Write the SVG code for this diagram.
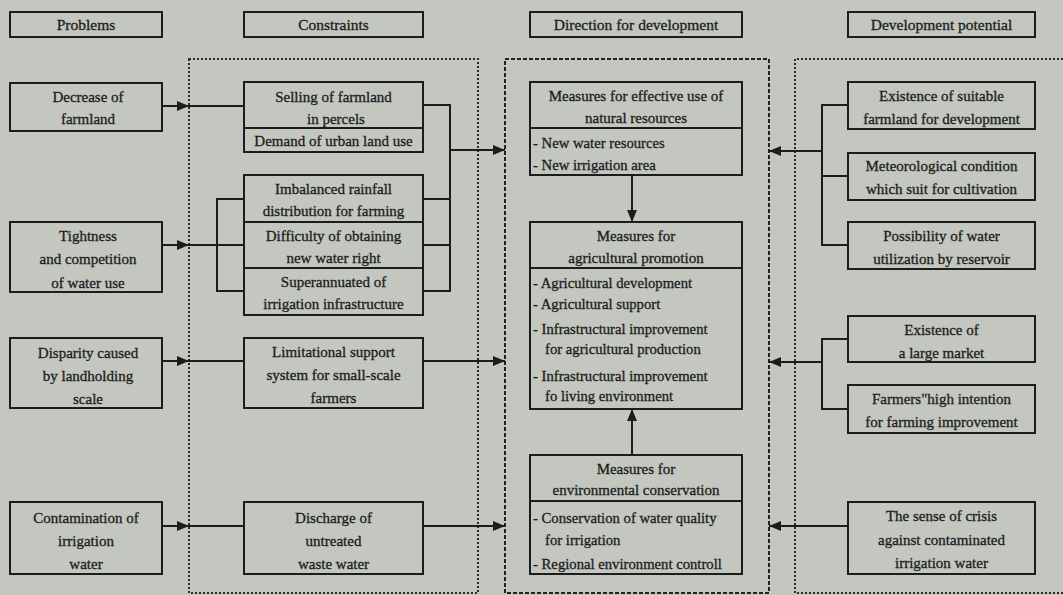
<svg xmlns="http://www.w3.org/2000/svg" width="1063" height="595" viewBox="0 0 1063 595">
<defs>
<style>
.bg{fill:#c3c7bf}
.box{fill:none;stroke:#1c1c1c;stroke-width:2}
.t,.l,.h{font-family:"Liberation Serif","Times New Roman",serif;font-size:15px;fill:#1c1c1c;stroke:#1c1c1c;stroke-width:0.3}
.t,.h{text-anchor:middle}
.l{text-anchor:start;font-size:14.7px}
.h{font-size:15.5px}
.c{fill:none;stroke:#1c1c1c;stroke-width:2}
.dot{fill:none;stroke:#2a2a2a;stroke-width:2;stroke-dasharray:2 2}
.dash{fill:none;stroke:#222;stroke-width:2;stroke-dasharray:4 2}
</style>
<marker id="ah" viewBox="0 0 12 10" refX="12" refY="5" markerWidth="12" markerHeight="10" markerUnits="userSpaceOnUse" orient="auto">
<path d="M0,0 L12,5 L0,10 z" fill="#1c1c1c"/>
</marker>
</defs>
<rect class="bg" x="0" y="0" width="1063" height="595"/>

<g id="panels">
<rect class="dot" x="189" y="59" width="289" height="534"/>
<rect class="dash" x="505" y="59" width="264" height="534"/>
<path class="dot" d="M1063,59 H795 V593 H1063"/>
</g>

<g id="headers">
<g id="h-problems"><rect class="box" x="10" y="12" width="152" height="25"/><text class="h" x="86" y="30">Problems</text></g>
<g id="h-constraints"><rect class="box" x="244" y="12" width="179" height="25"/><text class="h" x="333.5" y="30">Constraints</text></g>
<g id="h-direction"><rect class="box" x="530" y="12" width="212" height="25"/><text class="h" x="636" y="30">Direction for development</text></g>
<g id="h-potential"><rect class="box" x="848" y="12" width="187" height="25"/><text class="h" x="941.5" y="30">Development potential</text></g>
</g>

<g id="connectors">
<line class="c" x1="162" y1="106" x2="189" y2="106" marker-end="url(#ah)"/>
<line class="c" x1="189" y1="106" x2="244" y2="106"/>
<line class="c" x1="162" y1="245" x2="189" y2="245" marker-end="url(#ah)"/>
<line class="c" x1="189" y1="245" x2="244" y2="245"/>
<path class="c" d="M244,199 H217 V291 H244"/>
<line class="c" x1="162" y1="361" x2="189" y2="361" marker-end="url(#ah)"/>
<line class="c" x1="189" y1="361" x2="244" y2="361"/>
<line class="c" x1="162" y1="526" x2="189" y2="526" marker-end="url(#ah)"/>
<line class="c" x1="189" y1="526" x2="244" y2="526"/>
<path class="c" d="M423,105 H450 V291 H423"/>
<line class="c" x1="423" y1="199" x2="450" y2="199"/>
<line class="c" x1="423" y1="245" x2="450" y2="245"/>
<line class="c" x1="450" y1="150" x2="505" y2="150" marker-end="url(#ah)"/>
<line class="c" x1="423" y1="361" x2="505" y2="361" marker-end="url(#ah)"/>
<line class="c" x1="423" y1="526" x2="505" y2="526" marker-end="url(#ah)"/>
<line class="c" x1="632" y1="175" x2="632" y2="222" marker-end="url(#ah)"/>
<line class="c" x1="632" y1="455" x2="632" y2="409" marker-end="url(#ah)"/>
<path class="c" d="M848,105 H822 V245 H848"/>
<line class="c" x1="822" y1="176" x2="848" y2="176"/>
<line class="c" x1="822" y1="151" x2="769" y2="151" marker-end="url(#ah)"/>
<path class="c" d="M848,339 H822 V409 H848"/>
<line class="c" x1="822" y1="362" x2="769" y2="362" marker-end="url(#ah)"/>
<line class="c" x1="848" y1="526" x2="769" y2="526" marker-end="url(#ah)"/>
</g>

<g id="p-decrease"><rect class="box" x="10" y="83" width="152" height="48"/>
<text class="t" x="88" y="102">Decrease of</text><text class="t" x="88" y="124">farmland</text></g>
<g id="p-tightness"><rect class="box" x="10" y="222" width="152" height="70"/>
<text class="t" x="88" y="241">Tightness</text><text class="t" x="88" y="264">and competition</text><text class="t" x="88" y="288">of water use</text></g>
<g id="p-disparity"><rect class="box" x="10" y="338" width="152" height="70"/>
<text class="t" x="88" y="358">Disparity caused</text><text class="t" x="88" y="381">by landholding</text><text class="t" x="88" y="404">scale</text></g>
<g id="p-contamination"><rect class="box" x="10" y="502" width="152" height="72"/>
<text class="t" x="86" y="523">Contamination of</text><text class="t" x="86" y="546">irrigation</text><text class="t" x="86" y="569">water</text></g>

<g id="c-selling"><rect class="box" x="244" y="82" width="179" height="70"/><line class="box" x1="244" y1="128" x2="423" y2="128"/>
<text class="t" x="333.5" y="102">Selling of farmland</text><text class="t" x="336" y="124">in percels</text><text class="t" x="333.5" y="146">Demand of urban land use</text></g>
<g id="c-water"><rect class="box" x="244" y="175" width="179" height="140"/><line class="box" x1="244" y1="222" x2="423" y2="222"/><line class="box" x1="244" y1="268" x2="423" y2="268"/>
<text class="t" x="333.5" y="194">Imbalanced rainfall</text><text class="t" x="333.5" y="216">distribution for farming</text>
<text class="t" x="333.5" y="241">Difficulty of obtaining</text><text class="t" x="333.5" y="263">new water right</text>
<text class="t" x="333.5" y="287">Superannuated of</text><text class="t" x="333.5" y="309">irrigation infrastructure</text></g>
<g id="c-limitational"><rect class="box" x="244" y="338" width="179" height="70"/>
<text class="t" x="333.5" y="357">Limitational support</text><text class="t" x="333.5" y="380">system for small-scale</text><text class="t" x="333.5" y="403">farmers</text></g>
<g id="c-discharge"><rect class="box" x="244" y="502" width="179" height="72"/>
<text class="t" x="333.5" y="523">Discharge of</text><text class="t" x="333.5" y="546">untreated</text><text class="t" x="333.5" y="569">waste water</text></g>

<g id="d-natural"><rect class="box" x="530" y="82" width="212" height="93"/><line class="box" x1="530" y1="128" x2="742" y2="128"/>
<text class="t" x="636" y="101">Measures for effective use of</text><text class="t" x="636" y="123">natural resources</text>
<text class="l" x="533" y="148">- New water resources</text><text class="l" x="533" y="170">- New irrigation area</text></g>
<g id="d-agri"><rect class="box" x="530" y="222" width="212" height="187"/><line class="box" x1="530" y1="268" x2="742" y2="268"/>
<text class="t" x="636" y="241">Measures for</text><text class="t" x="636" y="263">agricultural promotion</text>
<text class="l" x="533" y="288">- Agricultural development</text>
<text class="l" x="533" y="309">- Agricultural support</text>
<text class="l" x="533" y="334">- Infrastructural improvement</text>
<text class="l" x="545" y="354">for agricultural production</text>
<text class="l" x="533" y="381">- Infrastructural improvement</text>
<text class="l" x="545" y="401">fo living environment</text></g>
<g id="d-env"><rect class="box" x="530" y="455" width="212" height="119"/><line class="box" x1="530" y1="501" x2="742" y2="501"/>
<text class="t" x="636" y="474">Measures for</text><text class="t" x="636" y="495">environmental conservation</text>
<text class="l" x="533" y="523">- Conservation of water quality</text>
<text class="l" x="545" y="545">for irrigation</text>
<text class="l" x="533" y="569">- Regional environment controll</text></g>

<g id="v-farmland"><rect class="box" x="848" y="82" width="187" height="47"/>
<text class="t" x="941.5" y="101">Existence of suitable</text><text class="t" x="941.5" y="124">farmland for development</text></g>
<g id="v-meteo"><rect class="box" x="848" y="153" width="187" height="47"/>
<text class="t" x="941.5" y="171">Meteorological condition</text><text class="t" x="941.5" y="194">which suit for cultivation</text></g>
<g id="v-reservoir"><rect class="box" x="848" y="222" width="187" height="47"/>
<text class="t" x="941.5" y="241">Possibility of  water</text><text class="t" x="941.5" y="264">utilization by reservoir</text></g>
<g id="v-market"><rect class="box" x="848" y="316" width="187" height="46"/>
<text class="t" x="941.5" y="335">Existence of</text><text class="t" x="941.5" y="358">a large market</text></g>
<g id="v-farmers"><rect class="box" x="848" y="385" width="187" height="48"/>
<text class="t" x="941.5" y="404">Farmers"high intention</text><text class="t" x="941.5" y="427">for farming improvement</text></g>
<g id="v-crisis"><rect class="box" x="848" y="502" width="187" height="72"/>
<text class="t" x="941.5" y="521">The sense of crisis</text><text class="t" x="941.5" y="545">against contaminated</text><text class="t" x="941.5" y="568">irrigation water</text></g>
</svg>
